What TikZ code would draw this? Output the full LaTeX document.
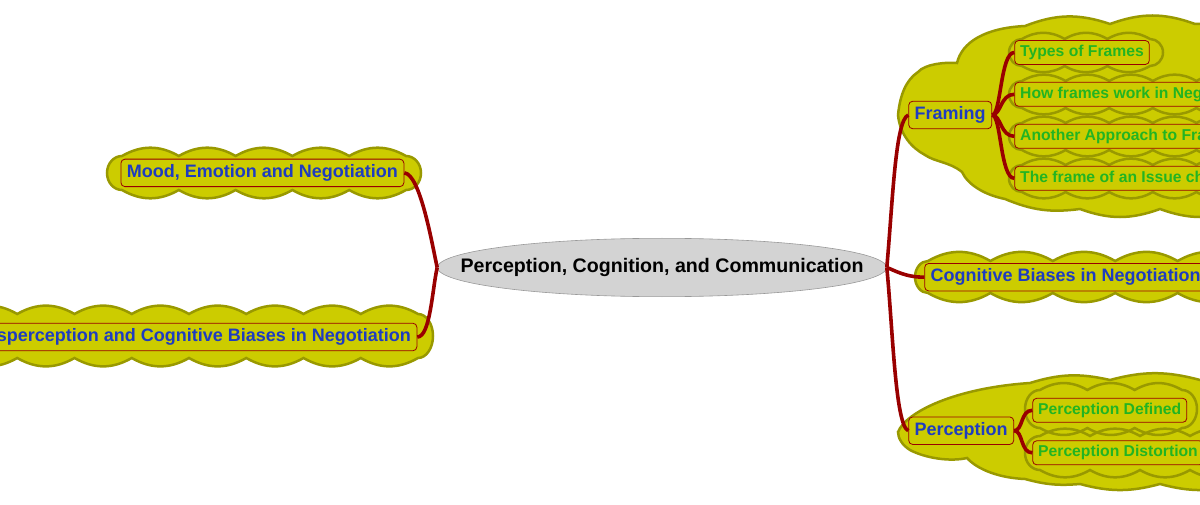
\documentclass[tikz,border=0pt]{standalone}
\usepackage{fontspec}
\setmainfont{Liberation Sans}
\usetikzlibrary{shapes.geometric}

\definecolor{puffyellow}{HTML}{CCCC00}
\definecolor{puffolive}{HTML}{999900}
\definecolor{linkred}{HTML}{990000}
\definecolor{topicblue}{HTML}{1E3CC0}
\definecolor{subgreen}{HTML}{22B422}
\definecolor{centergray}{HTML}{D3D3D3}

% scalloped outline: x left, x right, y top, y bottom, bumps, end radius
\newcommand{\puffcloud}[6]{(#1,#3)
  \foreach \k in {1,...,#5} { to[bend left=30] ++({((#2)-(#1))/#5},0) }
  arc[start angle=90,end angle=-90,x radius=#6pt,y radius={((#3)-(#4))/2*1pt}]
  \foreach \k in {1,...,#5} { to[bend left=30] ++({((#1)-(#2))/#5},0) }
  arc[start angle=270,end angle=90,x radius=#6pt,y radius={((#3)-(#4))/2*1pt}] -- cycle}

\begin{document}
\begin{tikzpicture}[x=1pt,y=1pt,
    puff/.style={fill=puffyellow,draw=puffolive,line width=2.5pt},
    topic/.style={draw=linkred,line width=0.8pt,rounded corners=4pt,fill=puffyellow,
      text=topicblue,font=\fontsize{18}{20}\selectfont\bfseries,
      minimum height=27.5pt,inner xsep=6pt,inner ysep=0pt},
    subtopic/.style={topic,text=subgreen,font=\fontsize{15.7}{18}\selectfont\bfseries,
      minimum height=24pt,inner xsep=5.5pt},
    link/.style={draw=linkred,line width=3.6pt}]
    \useasboundingbox (0,0) rectangle (1200,-505);
    \clip (0,0) rectangle (1200,-505);

    % left clouds
    \draw[puff] \puffcloud{122}{406}{-156}{-190}{5}{15};
    \draw[puff] \puffcloud{-40}{418}{-314}{-358}{8}{15};

    % Framing cloud and its children
    \draw[puff] (898,-115) .. controls (900,-95) and (906,-80) .. (918,-72)
      .. controls (925,-64) and (945,-62) .. (957,-63)
      .. controls (962,-42) and (985,-28) .. (1025,-26)
      to[bend left=20] (1110,-24) to[bend left=20] (1195,-24) -- (1240,-24)
      -- (1240,-209) to[bend left=20] (1160,-209) to[bend left=20] (1080,-209)
      to[bend left=15] (1005,-199)
      .. controls (985,-195) and (968,-185) .. (962,-172)
      .. controls (950,-162) and (935,-162) .. (925,-155)
      .. controls (912,-148) and (900,-135) .. (898,-115) -- cycle;
    \fill[puffyellow] \puffcloud{1022}{1150}{-39}{-66}{3}{13};
    \fill[puffyellow] \puffcloud{1022}{1240}{-81}{-108}{5}{13};
    \fill[puffyellow] \puffcloud{1022}{1240}{-123}{-150}{5}{13};
    \fill[puffyellow] \puffcloud{1022}{1240}{-165}{-192}{5}{13};
    \draw[puff,fill=none] \puffcloud{1022}{1150}{-39}{-66}{3}{13};
    \draw[puff,fill=none] \puffcloud{1022}{1240}{-81}{-108}{5}{13};
    \draw[puff,fill=none] \puffcloud{1022}{1240}{-123}{-150}{5}{13};
    \draw[puff,fill=none] \puffcloud{1022}{1240}{-165}{-192}{5}{13};

    % Cognitive Biases cloud
    \draw[puff] \puffcloud{928}{1240}{-261}{-293}{5}{13};

    % Perception cloud and its children
    \draw[puff] (898,-432) .. controls (906,-412) and (955,-388) .. (1030,-383)
      to[bend left=15] (1110,-380) to[bend left=15] (1200,-380) -- (1240,-380)
      -- (1240,-484) to[bend left=15] (1160,-484) to[bend left=15] (1080,-484)
      to[bend left=10] (1025,-479)
      .. controls (1000,-478) and (978,-470) .. (967,-458)
      .. controls (950,-462) and (925,-458) .. (910,-450)
      .. controls (902,-445) and (898,-438) .. (898,-432) -- cycle;
    \fill[puffyellow] \puffcloud{1040}{1182}{-390}{-428}{3}{15};
    \fill[puffyellow] \puffcloud{1040}{1240}{-436}{-470}{4}{15};
    \draw[puff,fill=none] \puffcloud{1040}{1182}{-390}{-428}{3}{15};
    \draw[puff,fill=none] \puffcloud{1040}{1240}{-436}{-470}{4}{15};

    % central topic
    \node[ellipse,fill=centergray,draw=gray!80,line width=0.6pt,inner sep=0pt,
      minimum width=449pt,minimum height=58.4pt,
      font=\fontsize{19.6}{22}\selectfont\bfseries] (center) at (662,-267.5)
      {\makebox[0pt]{Perception, Cognition, and Communication}};

    % topics
    \node[topic,anchor=east] (mood) at (404.3,-172.9) {Mood, Emotion and Negotiation};
    \node[topic,anchor=east] (misperc) at (417.3,-337) {Misperception and Cognitive Biases in Negotiation};
    \node[topic,anchor=west] (framing) at (908.3,-115) {Framing};
    \node[topic,anchor=west] (cogbias) at (924.3,-277.2) {Cognitive Biases in Negotiation};
    \node[topic,anchor=west] (percep) at (908.3,-430.7) {Perception};

    % subtopics
    \node[subtopic,anchor=west] (types) at (1014.3,-52.5) {Types of Frames};
    \node[subtopic,anchor=west] (howwork) at (1014.3,-94.3) {How frames work in Negotiation};
    \node[subtopic,anchor=west] (another) at (1014.3,-136.3) {Another Approach to Framing};
    \node[subtopic,anchor=west] (issue) at (1014.3,-178.3) {The frame of an Issue changes};
    \node[subtopic,anchor=west] (pdefined) at (1032.3,-410.3) {Perception Defined};
    \node[subtopic,anchor=west] (pdistort) at (1032.3,-452.8) {Perception Distortion};

    % links
    \draw[link] (mood.east) .. controls +(16,-1) and +(-5,22.5) .. (center.west);
    \draw[link] (misperc.east) .. controls +(13,0) and +(-5,-22) .. (center.west);
    \draw[link] (center.east) .. controls +(6,67) and +(-13,-5) .. (framing.west);
    \draw[link] (center.east) .. controls +(8,-3) and +(-19,0) .. (cogbias.west);
    \draw[link] (center.east) .. controls +(6,-62) and +(-13,5) .. (percep.west);
    \foreach \s in {types,howwork,another,issue}
      \draw[link] (framing.east) .. controls +(9,0) and +(-14,0) .. (\s.west);
    \foreach \s in {pdefined,pdistort}
      \draw[link] (percep.east) .. controls +(9,0) and +(-12,0) .. (\s.west);
\end{tikzpicture}
\end{document}
